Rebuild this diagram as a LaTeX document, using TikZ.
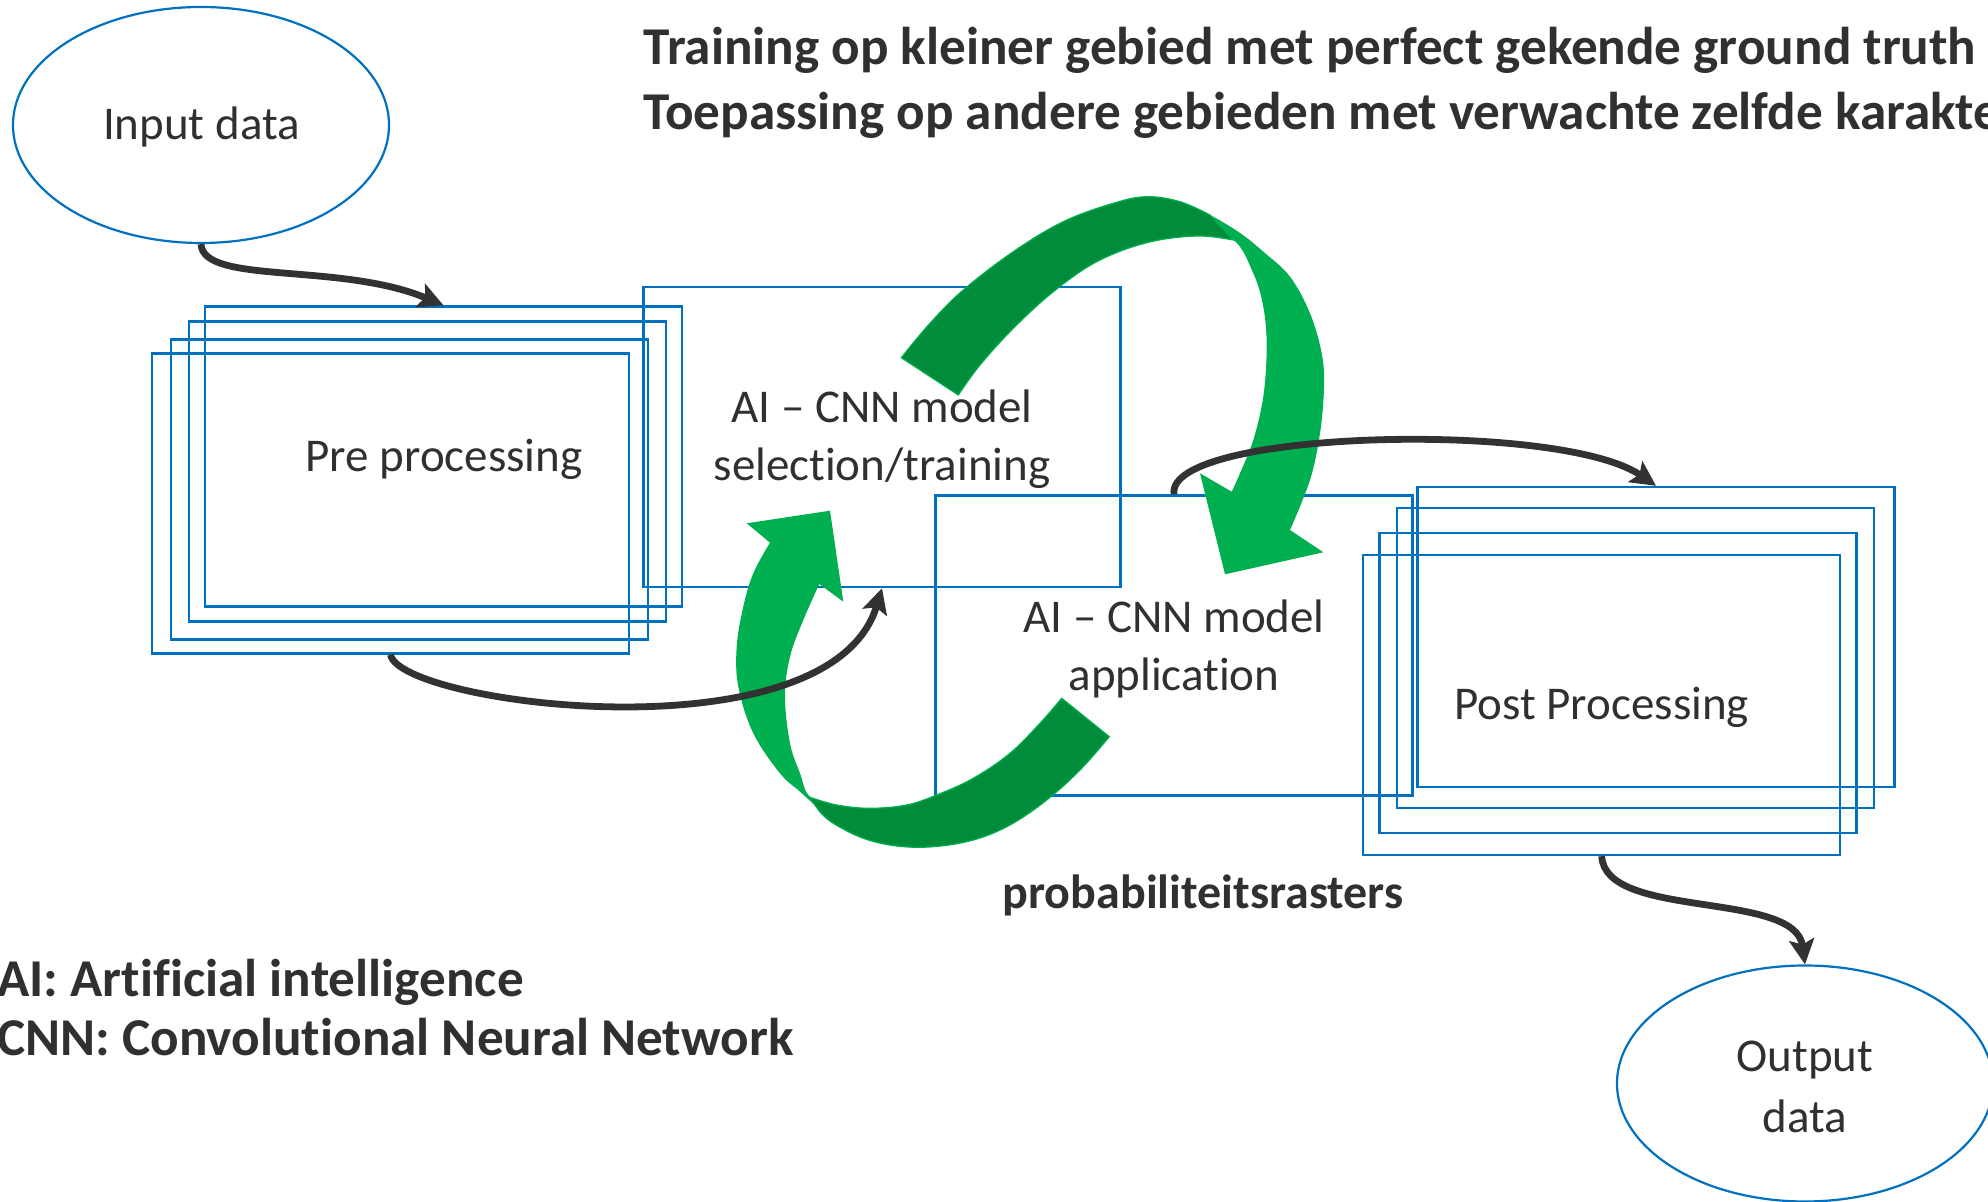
\documentclass[tikz,border=0pt]{standalone}
\usepackage{fontspec}
\setmainfont{Carlito}[Ligatures=CommonOff]
\usetikzlibrary{arrows.meta,shapes.geometric}
\definecolor{bblue}{HTML}{0070C0}
\definecolor{lgreen}{HTML}{00B050}
\definecolor{dgreen}{HTML}{008C3A}
\definecolor{txt}{HTML}{303030}
\definecolor{arr}{HTML}{323232}
\begin{document}
\begin{tikzpicture}[x=0.5pt,y=-0.5pt,
  box/.style={draw=bblue,line width=1.2pt,minimum width=238.5pt,minimum height=150pt,inner sep=0pt},
  oval/.style={ellipse,draw=bblue,line width=1.1pt,minimum width=188pt,minimum height=118pt,inner sep=0pt},
  lbl/.style={text=txt,font=\fontsize{23.5}{28}\selectfont,inner sep=0pt,anchor=base},
  boldlbl/.style={text=txt,font=\fontsize{26.6}{32}\selectfont\bfseries,inner sep=0pt,anchor=base west},
  conn/.style={draw=arr,line width=3.4pt,-{Stealth[length=12.5pt,width=12.5pt,inset=2.5pt]}},
  lightpart/.style={fill=lgreen},
  darkpart/.style={fill=dgreen,draw=lgreen,line width=0.6pt},
]
\useasboundingbox (0,0) rectangle (1988,1202);
\clip (0,0) rectangle (1988,1202);

% ellipses
\node[oval] (in) at (201,125) {};
\node[oval] (out) at (1805,1083.5) {};

% pre processing stack
\node[box] (preA) at (443.5,456.5) {};
\node[box] (preB) at (427.5,471.5) {};
\node[box] (preC) at (409.5,489.5) {};
\node[box] (preD) at (390.5,503.5) {};

% model boxes
\node[box] (sel) at (882,437) {};
\node[box] (app) at (1174,645.5) {};

% post processing stack
\node[box] (postA) at (1656,637) {};
\node[box] (postB) at (1635.7,658) {};
\node[box] (postC) at (1618,683) {};
\node[box] (postD) at (1601.7,705) {};

% upper green arrow
\fill[lightpart] plot[smooth,tension=0.6] coordinates {(901.3,357.7) (930,323.3) (963.3,290) (1013.3,251.7) (1063.3,221.7) (1113.3,203.3) (1146.7,196.7) (1180,201.7) (1210,215) (1240,233) (1263.3,251.7) (1290,276.7) (1310,313.3) (1321.7,353.3) (1324,386.7) (1320,433.3) (1310,480) (1290,530)}
  -- (1323.3,552.3) -- (1225,574.3) -- (1200,473.3)
  -- plot[smooth,tension=0.6] coordinates {(1231.7,491.7) (1240,473.3) (1253.3,440) (1263.3,396.7) (1266.7,346.7) (1263.3,306.7) (1253.3,273.3) (1233.3,240) (1196.7,236) (1146.7,242.7) (1096.7,261.7) (1053.3,291.7) (1013.3,328.3) (980,365) (958.3,395)} -- cycle;
\filldraw[darkpart] plot[smooth,tension=0.6] coordinates {(901.3,357.7) (930,323.3) (963.3,290) (1013.3,251.7) (1063.3,221.7) (1113.3,203.3) (1146.7,196.7) (1180,201.7) (1210,215)}
  -- plot[smooth,tension=0.6] coordinates {(1233.3,240) (1196.7,236) (1146.7,242.7) (1096.7,261.7) (1053.3,291.7) (1013.3,328.3) (980,365) (958.3,395)} -- cycle;

% lower green arrow
\fill[lightpart] plot[smooth,tension=0.6] coordinates {(1109.3,736.7) (1080,770) (1046.7,800) (1010,825) (973.3,840) (933.3,846.7) (896.7,846) (863.3,838.3) (833.3,823.3) (820,810) (800,791.7) (780,773.3) (753.3,733.3) (738.3,686.7) (736.7,646.7) (743.3,606.7) (753.3,573.3) (770,542.7)}
  -- (746.7,523.3) -- (830,510.7) -- (843.3,601.7)
  -- plot[smooth,tension=0.6] coordinates {(819.3,584) (803.3,620) (790,656.7) (785,696.7) (790,743.3) (800,773.3) (810,796.7) (836.7,805) (870,808.3) (906.7,805) (936.7,795) (973.3,778.3) (1010,753.3) (1040,723.3) (1061.7,698.3)} -- cycle;
\filldraw[darkpart] plot[smooth,tension=0.6] coordinates {(1109.3,736.7) (1080,770) (1046.7,800) (1010,825) (973.3,840) (933.3,846.7) (896.7,846) (863.3,838.3) (833.3,823.3) (820,812)}
  -- plot[smooth,tension=0.6] coordinates {(809,797) (836.7,805) (870,808.3) (906.7,805) (936.7,795) (973.3,778.3) (1010,753.3) (1040,723.3) (1061.7,698.3)} -- cycle;

% connectors
\draw[conn] (in.south) .. controls (203,285) and (340,262) .. (preA.north);
\draw[conn] (preD.south) .. controls (400,705) and (830,760) .. (sel.south);
\draw[conn] (app.north) .. controls (1165,430) and (1560,420) .. (postA.north);
\draw[conn] (postD.south) .. controls (1605,920) and (1795,890) .. (out.north);

% labels
\node[lbl] (tin) at (201.5,140) {Input data};
\node[lbl] (tpre) at (444,472) {Pre processing};
\node[lbl] (tsel1) at (882,422.5) {AI – CNN model};
\node[lbl] (tsel2) at (882,481) {selection/training};
\node[lbl] (tapp1) at (1174,633) {AI – CNN model};
\node[lbl] (tapp2) at (1174,690.5) {application};
\node[lbl] (tpost) at (1601.7,720) {Post Processing};
\node[lbl] (tout1) at (1805,1072) {Output};
\node[lbl] (tout2) at (1805,1132) {data};

\node[boldlbl] (title1) at (643,65) {Training op kleiner gebied met perfect gekende ground truth};
\node[boldlbl] (title2) at (643,130) {Toepassing op andere gebieden met verwachte zelfde karakte};
\node[boldlbl] (leg1) at (-3,997) {AI: Artificial intelligence};
\node[boldlbl] (leg2) at (-3,1056) {CNN: Convolutional Neural Network};
\node[text=txt,font=\fontsize{24}{29}\selectfont\bfseries,inner sep=0pt,anchor=base] (prob) at (1203,909) {probabiliteitsrasters};
\end{tikzpicture}
\end{document}
